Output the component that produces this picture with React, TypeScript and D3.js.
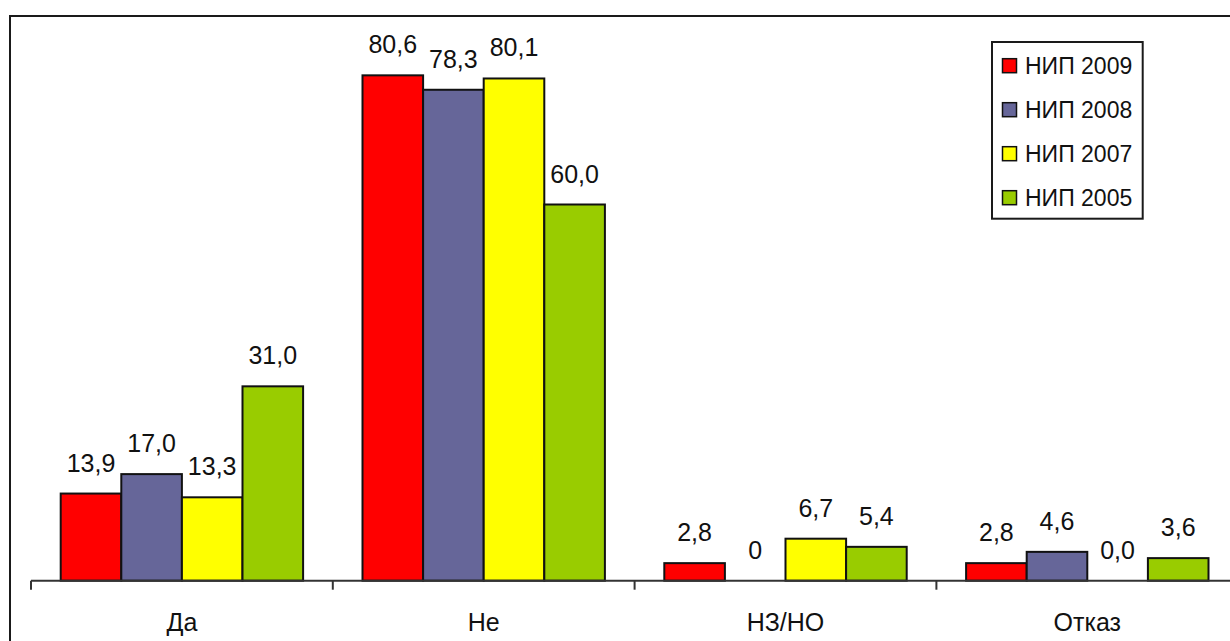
import React, { useEffect, useRef } from "react";
import * as d3 from "d3";

const categories = ["Да", "Не", "НЗ/НО", "Отказ"];
const seriesNames = ["НИП 2009", "НИП 2008", "НИП 2007", "НИП 2005"];
const seriesColors = ["#ff0000", "#666699", "#ffff00", "#99cc00"];
const values2009 = [13.9, 80.6, 2.8, 2.8];
const values2008 = [17.0, 78.3, 0, 4.6];
const values2007 = [13.3, 80.1, 6.7, 0.0];
const values2005 = [31.0, 60.0, 5.4, 3.6];
const labels2009 = ["13,9", "80,6", "2,8", "2,8"];
const labels2008 = ["17,0", "78,3", "0", "4,6"];
const labels2007 = ["13,3", "80,1", "6,7", "0,0"];
const labels2005 = ["31,0", "60,0", "5,4", "3,6"];

const W = 1230;
const H = 641;
const FONT = "'Liberation Sans', Arial, sans-serif";

export default function App() {
  const ref = useRef<SVGSVGElement>(null);

  useEffect(() => {
    const svg = d3.select(ref.current);
    svg.selectAll("*").remove();

    const allValues = [values2009, values2008, values2007, values2005];
    const allLabels = [labels2009, labels2008, labels2007, labels2005];

    const x0 = 31;
    const band = 301.8;
    const xCat = d3
      .scaleBand<string>()
      .domain(categories)
      .range([x0, x0 + band * categories.length])
      .padding(0);
    const innerPad = 29.7;
    const xSer = d3
      .scaleBand<string>()
      .domain(seriesNames)
      .range([innerPad, band - innerPad])
      .padding(0);
    const y = d3.scaleLinear().domain([0, 90]).range([580.7, 16.4]);

    // outer frame
    svg
      .append("rect")
      .attr("x", 10)
      .attr("y", 16)
      .attr("width", 1240)
      .attr("height", 700)
      .attr("fill", "none")
      .attr("stroke", "#1a1a1a")
      .attr("stroke-width", 2);

    // bars
    seriesNames.forEach((s, si) => {
      const g = svg.append("g");
      categories.forEach((c, ci) => {
        const v = allValues[si][ci];
        const bx = (xCat(c) as number) + (xSer(s) as number);
        const bw = xSer.bandwidth();
        if (v > 0) {
          g.append("rect")
            .attr("x", bx)
            .attr("y", y(v))
            .attr("width", bw)
            .attr("height", y(0) - y(v))
            .attr("fill", seriesColors[si])
            .attr("stroke", "#111")
            .attr("stroke-width", 2);
        }
        svg
          .append("text")
          .attr("x", bx + bw / 2)
          .attr("y", y(v) - 22)
          .attr("text-anchor", "middle")
          .attr("font-family", FONT)
          .attr("font-size", 25)
          .attr("fill", "#111")
          .text(allLabels[si][ci]);
      });
    });

    // axis
    const axisG = svg.append("g");
    axisG
      .append("line")
      .attr("x1", x0)
      .attr("x2", W + 10)
      .attr("y1", y(0))
      .attr("y2", y(0))
      .attr("stroke", "#333")
      .attr("stroke-width", 2);
    const tickPositions = d3.range(categories.length + 1).map((i) => x0 + i * band);
    tickPositions.forEach((tx) => {
      axisG
        .append("line")
        .attr("x1", tx)
        .attr("x2", tx)
        .attr("y1", y(0))
        .attr("y2", y(0) + 9)
        .attr("stroke", "#333")
        .attr("stroke-width", 2);
    });
    categories.forEach((c) => {
      axisG
        .append("text")
        .attr("x", (xCat(c) as number) + xCat.bandwidth() / 2)
        .attr("y", 631)
        .attr("text-anchor", "middle")
        .attr("font-family", FONT)
        .attr("font-size", 25)
        .attr("fill", "#111")
        .text(c);
    });

    // legend
    const lg = svg.append("g");
    lg.append("rect")
      .attr("x", 992)
      .attr("y", 42)
      .attr("width", 150.7)
      .attr("height", 176.7)
      .attr("fill", "#fff")
      .attr("stroke", "#1a1a1a")
      .attr("stroke-width", 2);
    seriesNames.forEach((s, i) => {
      const cy = 65.7 + i * 44;
      lg.append("rect")
        .attr("x", 1002.5)
        .attr("y", cy - 7)
        .attr("width", 14)
        .attr("height", 14)
        .attr("fill", seriesColors[i])
        .attr("stroke", "#111")
        .attr("stroke-width", 1.5);
      lg.append("text")
        .attr("x", 1025)
        .attr("y", cy)
        .attr("dy", "0.35em")
        .attr("font-family", FONT)
        .attr("font-size", 23)
        .attr("fill", "#111")
        .text(s);
    });
  }, []);

  return (
    <svg
      ref={ref}
      width={W}
      height={H}
      style={{ position: "absolute", left: 0, top: 0, background: "#fff", display: "block" }}
    />
  );
}
